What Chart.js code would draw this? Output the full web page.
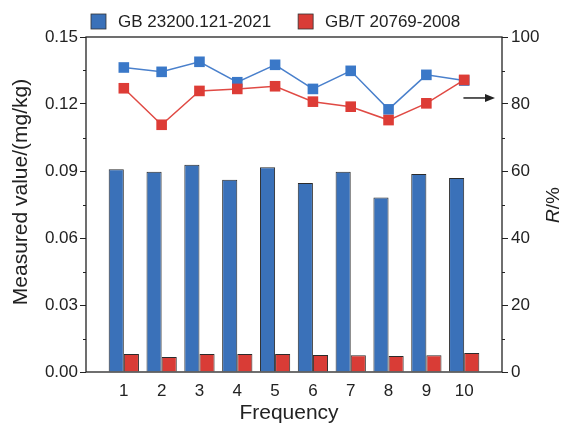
<!DOCTYPE html>
<html>
<head>
<meta charset="utf-8">
<script src="https://cdn.jsdelivr.net/npm/chart.js@4"></script>
<style>
html,body{margin:0;padding:0;background:#fff;}
#wrap{width:564px;height:424px;}
</style>
</head>
<body>
<div id="wrap"><canvas id="chart" width="564" height="424"></canvas></div>
<script>
// data
const frequency = [1, 2, 3, 4, 5, 6, 7, 8, 9, 10];
const seriesNames = ["GB 23200.121-2021", "GB/T 20769-2008"];
const measuredNew = [0.0908, 0.0897, 0.0928, 0.0861, 0.0917, 0.0846, 0.0897, 0.0781, 0.0887, 0.0869];
const measuredOld = [0.0081, 0.0067, 0.0081, 0.0081, 0.0081, 0.0076, 0.0075, 0.0072, 0.0075, 0.0085];
const recoveryNew = [90.9, 89.6, 92.6, 86.5, 91.7, 84.5, 89.9, 78.4, 88.7, 87.0];
const recoveryOld = [84.7, 73.8, 83.9, 84.5, 85.3, 80.7, 79.2, 75.2, 80.2, 87.2];
const leftTicks = [0, 0.03, 0.06, 0.09, 0.12, 0.15];
const rightTicks = [0, 20, 40, 60, 80, 100];

const FONT = "'Liberation Sans', Arial, sans-serif";
const INK = "#222";
const BLUE = "#3a71b9", RED = "#d93c36";

const pts = vals => vals.map((v, i) => ({x: frequency[i], y: v}));

// frame, minor ticks, legend, axis titles and the arrow
const decor = {
  id: "decor",
  afterDraw(chart) {
    const {ctx, chartArea: a, scales} = chart;
    ctx.save();
    ctx.strokeStyle = INK;
    ctx.lineWidth = 1.3;
    ctx.strokeRect(a.left, a.top, a.right - a.left, a.bottom - a.top);

    // minor ticks
    ctx.lineWidth = 1;
    ctx.beginPath();
    for (let i = 0; i < leftTicks.length - 1; i++) {
      const y = Math.round(scales.y.getPixelForValue((leftTicks[i] + leftTicks[i + 1]) / 2)) + 0.5;
      ctx.moveTo(a.left, y); ctx.lineTo(a.left - 3, y);
    }
    for (let i = 0; i < rightTicks.length - 1; i++) {
      const y = Math.round(scales.y1.getPixelForValue((rightTicks[i] + rightTicks[i + 1]) / 2)) + 0.5;
      ctx.moveTo(a.right, y); ctx.lineTo(a.right + 3, y);
    }
    ctx.stroke();

    // legend
    ctx.font = "17px " + FONT;
    ctx.textAlign = "left";
    ctx.textBaseline = "middle";
    let lx = 91;
    [BLUE, RED].forEach((c, i) => {
      ctx.fillStyle = c;
      ctx.fillRect(lx, 14, 15, 15);
      ctx.strokeStyle = "#333";
      ctx.lineWidth = 0.8;
      ctx.strokeRect(lx, 14, 15, 15);
      ctx.fillStyle = INK;
      ctx.fillText(seriesNames[i], lx + 27, 22);
      lx += 27 + ctx.measureText(seriesNames[i]).width + 27;
    });

    ctx.fillStyle = INK;
    ctx.textAlign = "center";

    // left title
    ctx.save();
    ctx.translate(21, 192);
    ctx.rotate(-Math.PI / 2);
    ctx.font = "21px " + FONT;
    ctx.fillText("Measured value/(mg/kg)", 0, 0);
    ctx.restore();

    // right title, italic R
    ctx.save();
    ctx.translate(554, 205);
    ctx.rotate(-Math.PI / 2);
    ctx.font = "italic 19px " + FONT;
    const wR = ctx.measureText("R").width;
    ctx.font = "19px " + FONT;
    const wRest = ctx.measureText("/%").width;
    const x0 = -(wR + wRest) / 2;
    ctx.textAlign = "left";
    ctx.font = "italic 19px " + FONT;
    ctx.fillText("R", x0, 0);
    ctx.font = "19px " + FONT;
    ctx.fillText("/%", x0 + wR, 0);
    ctx.restore();

    // bottom title
    ctx.font = "21px " + FONT;
    ctx.fillText("Frequency", (a.left + a.right) / 2 - 5, 413);

    // arrow pointing at the right axis
    const ay = scales.y1.getPixelForValue(81.8);
    const ax0 = scales.x.getPixelForValue(9.98);
    const ax1 = a.right - 7;
    ctx.strokeStyle = INK;
    ctx.lineWidth = 1.5;
    ctx.beginPath();
    ctx.moveTo(ax0, ay); ctx.lineTo(ax1 - 6, ay);
    ctx.stroke();
    ctx.beginPath();
    ctx.moveTo(ax1, ay); ctx.lineTo(ax1 - 10, ay - 4); ctx.lineTo(ax1 - 10, ay + 4);
    ctx.closePath();
    ctx.fill();
    ctx.restore();
  }
};

new Chart(document.getElementById("chart"), {
  data: {
    datasets: [
      {
        type: "bar", label: seriesNames[0], data: pts(measuredNew), yAxisID: "y",
        backgroundColor: BLUE, borderColor: "#2b2b2b", borderWidth: 1,
        barPercentage: 1, categoryPercentage: 0.8, order: 3
      },
      {
        type: "bar", label: seriesNames[1], data: pts(measuredOld), yAxisID: "y",
        backgroundColor: RED, borderColor: "#2b2b2b", borderWidth: 1,
        barPercentage: 1, categoryPercentage: 0.8, order: 3
      },
      {
        type: "line", label: seriesNames[0] + " R", data: pts(recoveryNew), yAxisID: "y1",
        borderColor: "#4a80cc", borderWidth: 1.5, backgroundColor: "#3a78c8",
        pointStyle: "rect", pointRadius: 7.5, pointBorderWidth: 0, tension: 0, order: 1
      },
      {
        type: "line", label: seriesNames[1] + " R", data: pts(recoveryOld), yAxisID: "y1",
        borderColor: "#e04a44", borderWidth: 1.5, backgroundColor: "#dd3c36",
        pointStyle: "rect", pointRadius: 7.5, pointBorderWidth: 0, tension: 0, order: 0
      }
    ]
  },
  options: {
    responsive: false,
    animation: false,
    layout: {padding: {top: 37, left: 0, right: 0, bottom: 0}},
    plugins: {
      tooltip: {enabled: false},
      legend: {display: false}
    },
    scales: {
      x: {
        type: "linear", min: 0, max: 11, offset: false,
        afterFit: s => { s.height = 52; },
        afterBuildTicks: s => { s.ticks = frequency.map(v => ({value: v})); },
        grid: {display: false, drawTicks: false},
        border: {display: false},
        ticks: {color: INK, padding: 9, font: {family: FONT, size: 17}, maxRotation: 0}
      },
      y: {
        position: "left", min: 0, max: 0.15,
        afterFit: s => { s.width = 86; },
        afterBuildTicks: s => { s.ticks = leftTicks.map(v => ({value: v})); },
        grid: {drawOnChartArea: false, tickLength: 6, color: INK, tickWidth: 1},
        border: {display: false},
        ticks: {color: INK, padding: 2, font: {family: FONT, size: 17}, callback: v => v.toFixed(2)}
      },
      y1: {
        position: "right", min: 0, max: 100,
        afterFit: s => { s.width = 62; },
        afterBuildTicks: s => { s.ticks = rightTicks.map(v => ({value: v})); },
        grid: {drawOnChartArea: false, tickLength: 6, color: INK, tickWidth: 1},
        border: {display: false},
        ticks: {color: INK, padding: 3, font: {family: FONT, size: 17}}
      }
    }
  },
  plugins: [decor]
});
</script>
</body>
</html>
